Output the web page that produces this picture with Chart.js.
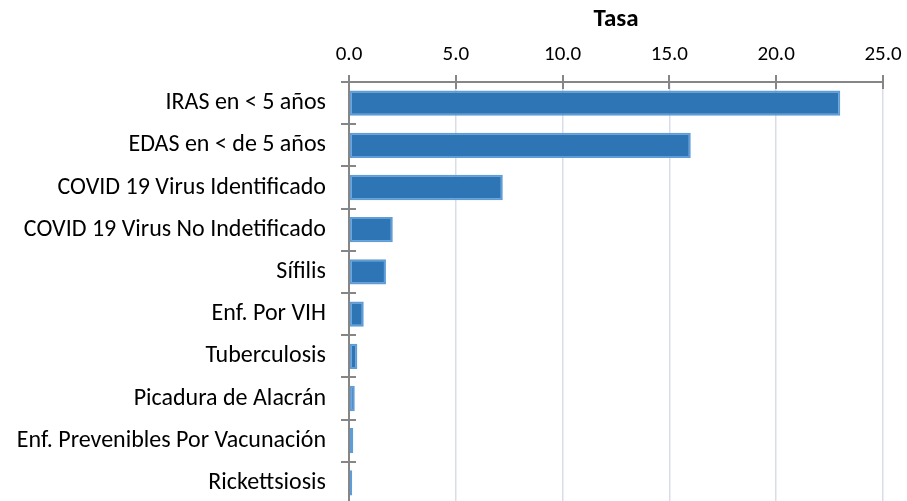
<!DOCTYPE html>
<html>
<head>
<meta charset="utf-8">
<script src="https://cdn.jsdelivr.net/npm/chart.js@4/dist/chart.umd.min.js"></script>
<style>
  html, body { margin: 0; padding: 0; background: #fff; overflow: hidden; }
  canvas { display: block; }
</style>
</head>
<body>
<canvas id="c" width="907" height="506" style="width:907px;height:506px"></canvas>
<script>
const categories = [
  "IRAS en < 5 años",
  "EDAS en < de 5 años",
  "COVID 19 Virus Identificado",
  "COVID 19 Virus No Indetificado",
  "Sífilis",
  "Enf. Por VIH",
  "Tuberculosis",
  "Picadura de Alacrán",
  "Enf. Prevenibles Por Vacunación",
  "Rickettsiosis"
];
const tasa = [23.0, 16.0, 7.2, 2.05, 1.73, 0.69, 0.39, 0.27, 0.2, 0.15];
const axisMin = 0;
const axisMax = 25;
const axisStep = 5;
const axisTitle = "Tasa";

const FONT = "Carlito, Calibri, Lato, sans-serif";
const AXIS_COLOR = "#868686";

function noEdgePadding(scale) {
  scale.paddingTop = 0;
  scale.paddingBottom = 0;
  scale.paddingLeft = 0;
  scale.paddingRight = 0;
}

const crossTicks = {
  id: 'crossTicks',
  afterDraw(chart) {
    const ctx = chart.ctx;
    const area = chart.chartArea;
    const xs = chart.scales.x, ys = chart.scales.y;
    ctx.save();
    ctx.strokeStyle = AXIS_COLOR;
    ctx.lineWidth = 2;
    ctx.beginPath();
    for (let i = 0; i < xs.ticks.length; i++) {
      const px = Math.round(xs.getPixelForTick(i));
      ctx.moveTo(px, area.top - 7);
      ctx.lineTo(px, area.top + 7);
    }
    for (let i = 0; i <= categories.length; i++) {
      const py = Math.round(ys.getPixelForValue(i - 0.5));
      ctx.moveTo(area.left - 8, py);
      ctx.lineTo(area.left + 7, py);
    }
    ctx.stroke();
    ctx.restore();
  }
};

new Chart(document.getElementById('c'), {
  type: 'bar',
  data: {
    labels: categories,
    datasets: [{
      data: tasa,
      backgroundColor: '#2E75B6',
      borderColor: '#5E9DD8',
      borderWidth: 2,
      borderSkipped: false,
      barPercentage: 0.6,
      categoryPercentage: 1.0
    }]
  },
  options: {
    indexAxis: 'y',
    responsive: false,
    maintainAspectRatio: false,
    animation: false,
    devicePixelRatio: 1,
    layout: { padding: { left: 0, right: 24, top: 0, bottom: 2 } },
    plugins: { legend: { display: false }, tooltip: { enabled: false } },
    scales: {
      x: {
        position: 'top',
        min: axisMin,
        max: axisMax,
        ticks: {
          stepSize: axisStep,
          color: '#000',
          padding: 15,
          font: { family: FONT, size: 21 },
          callback: v => Number(v).toFixed(1)
        },
        grid: { color: '#D9DDE7', lineWidth: 1.5, drawTicks: false },
        border: { display: true, color: AXIS_COLOR, width: 2 },
        title: {
          display: true,
          text: axisTitle,
          color: '#000',
          font: { family: FONT, size: 25, weight: 'bold' },
          padding: { top: 5, bottom: 4 }
        },
        afterFit(scale) { scale.height = 82; noEdgePadding(scale); }
      },
      y: {
        offset: true,
        ticks: {
          color: '#000',
          padding: 23,
          font: { family: FONT, size: 24 }
        },
        grid: { display: false, drawTicks: false },
        border: { display: true, color: AXIS_COLOR, width: 2 },
        afterFit(scale) { scale.width = 349; noEdgePadding(scale); }
      }
    }
  },
  plugins: [crossTicks]
});
</script>
</body>
</html>
